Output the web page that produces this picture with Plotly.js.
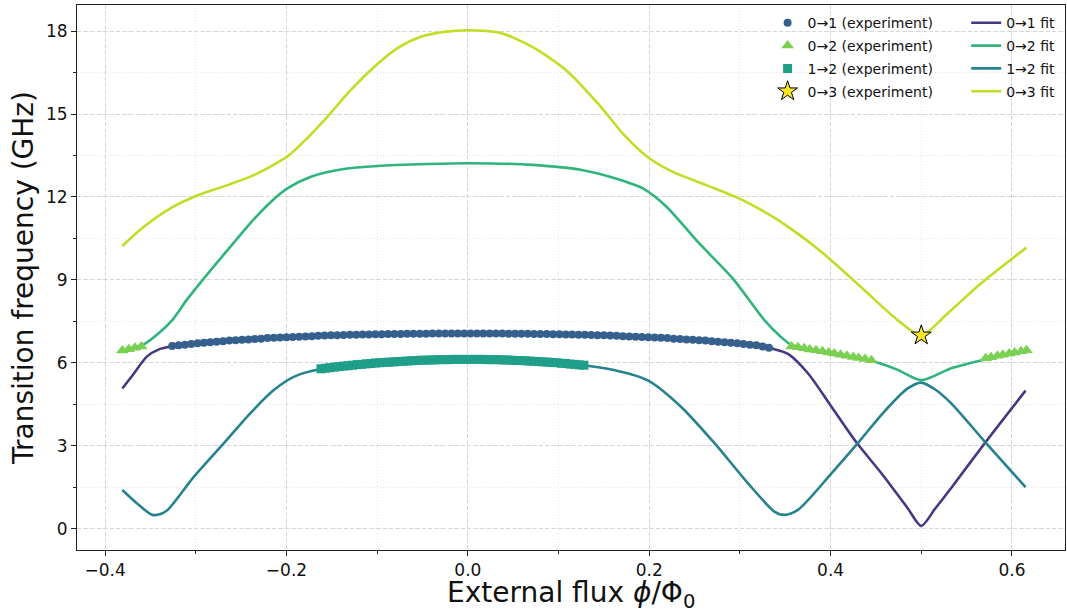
<!DOCTYPE html>
<html>
<head>
<meta charset="utf-8">
<script src="https://cdn.plot.ly/plotly-3.0.1.min.js"></script>
<style>html,body{margin:0;padding:0;background:#fff;}#chart{width:1067px;height:614px;}</style>
</head>
<body>
<div id="chart"></div>
<script>
// ---- Fit curves ----
const fit01_x = [-0.381,-0.368,-0.354,-0.340,-0.326,-0.295,-0.250,-0.200,-0.100,0.000,0.100,0.200,0.272,0.309,0.338,0.353,0.375,0.401,0.428,0.459,0.485,0.500,0.515,0.533,0.570,0.615];
const fit01_y = [5.08,5.63,6.23,6.50,6.61,6.77,6.88,6.95,7.04,7.07,7.03,6.93,6.77,6.65,6.50,6.33,5.63,4.42,3.15,1.89,0.75,0.11,0.72,1.48,3.10,5.00];

const fit02_x = [-0.381,-0.370,-0.357,-0.340,-0.326,-0.310,-0.291,-0.265,-0.240,-0.217,-0.199,-0.173,-0.137,-0.100,-0.044,0.000,0.071,0.127,0.163,0.193,0.219,0.255,0.292,0.327,0.345,0.357,0.400,0.448,0.474,0.500,0.533,0.570,0.615];
const fit02_y = [6.42,6.55,6.68,7.10,7.55,8.28,9.06,10.08,11.05,11.83,12.31,12.73,13.01,13.12,13.19,13.22,13.16,12.97,12.67,12.31,11.65,10.33,9.06,7.55,6.95,6.65,6.38,6.05,5.75,5.38,5.81,6.13,6.45];

const fit12_x = [-0.381,-0.365,-0.348,-0.338,-0.331,-0.302,-0.269,-0.240,-0.214,-0.192,-0.162,-0.100,0.000,0.080,0.125,0.161,0.198,0.235,0.272,0.309,0.338,0.349,0.364,0.401,0.430,0.458,0.485,0.500,0.515,0.533,0.570,0.615];
const fit12_y = [1.41,0.93,0.51,0.55,0.69,1.89,3.10,4.18,5.02,5.50,5.78,5.98,6.12,6.03,5.93,5.75,5.38,4.42,3.10,1.65,0.63,0.51,0.69,2.01,3.10,4.20,5.08,5.29,5.05,4.54,3.16,1.51];

const fit03_x = [-0.381,-0.357,-0.328,-0.297,-0.265,-0.236,-0.210,-0.197,-0.181,-0.155,-0.129,-0.103,-0.078,-0.052,-0.026,0.000,0.035,0.071,0.108,0.145,0.174,0.200,0.226,0.263,0.299,0.336,0.366,0.393,0.437,0.474,0.500,0.529,0.566,0.616];
const fit03_y = [10.23,10.93,11.59,12.07,12.43,12.79,13.24,13.52,14.00,14.90,15.87,16.71,17.37,17.79,17.97,18.03,17.94,17.43,16.59,15.32,14.18,13.40,12.91,12.43,11.95,11.29,10.62,9.93,8.64,7.55,7.00,7.79,8.88,10.17];

// ---- Experimental data ----
const exp01_x = [-0.326,-0.319,-0.312,-0.305,-0.298,-0.291,-0.284,-0.277,-0.270,-0.263,-0.256,-0.249,-0.242,-0.235,-0.228,-0.221,-0.214,-0.207,-0.200,-0.193,-0.186,-0.179,-0.172,-0.165,-0.158,-0.151,-0.144,-0.137,-0.130,-0.123,-0.116,-0.109,-0.102,-0.095,-0.088,-0.081,-0.074,-0.067,-0.060,-0.053,-0.046,-0.039,-0.032,-0.025,-0.018,-0.011,-0.004,0.003,0.010,0.017,0.024,0.031,0.038,0.045,0.052,0.059,0.066,0.073,0.080,0.087,0.094,0.101,0.108,0.115,0.122,0.129,0.136,0.143,0.150,0.157,0.164,0.171,0.178,0.185,0.192,0.199,0.206,0.213,0.220,0.227,0.234,0.241,0.248,0.255,0.262,0.269,0.276,0.283,0.290,0.297,0.304,0.311,0.318,0.325,0.332];
const exp01_y = [6.61,6.64,6.66,6.69,6.71,6.73,6.75,6.77,6.79,6.81,6.82,6.84,6.85,6.87,6.88,6.90,6.91,6.92,6.93,6.94,6.95,6.96,6.97,6.98,6.99,7.00,7.00,7.01,7.02,7.02,7.03,7.03,7.04,7.04,7.05,7.05,7.05,7.06,7.06,7.06,7.06,7.07,7.07,7.07,7.07,7.07,7.07,7.07,7.07,7.07,7.07,7.07,7.07,7.06,7.06,7.06,7.06,7.05,7.05,7.05,7.04,7.04,7.03,7.03,7.02,7.02,7.01,7.00,7.00,6.99,6.98,6.97,6.96,6.95,6.94,6.93,6.92,6.91,6.90,6.88,6.87,6.85,6.84,6.82,6.81,6.79,6.77,6.75,6.73,6.71,6.69,6.66,6.64,6.60,6.55];

const exp02_x = [-0.381,-0.374,-0.367,-0.360,0.357,0.364,0.371,0.377,0.384,0.391,0.398,0.404,0.411,0.418,0.425,0.431,0.438,0.445,0.571,0.577,0.584,0.590,0.597,0.603,0.610,0.616];
const exp02_y = [6.45,6.50,6.55,6.60,6.60,6.57,6.53,6.49,6.46,6.42,6.38,6.34,6.30,6.26,6.22,6.18,6.14,6.10,6.17,6.21,6.26,6.30,6.34,6.38,6.42,6.46];

const exp12_x = [-0.162,-0.157,-0.152,-0.147,-0.142,-0.137,-0.132,-0.127,-0.122,-0.117,-0.112,-0.107,-0.102,-0.097,-0.092,-0.087,-0.082,-0.077,-0.072,-0.067,-0.062,-0.057,-0.052,-0.047,-0.042,-0.037,-0.032,-0.027,-0.022,-0.017,-0.012,-0.007,-0.002,0.003,0.008,0.013,0.018,0.023,0.028,0.033,0.038,0.043,0.048,0.053,0.058,0.063,0.068,0.073,0.078,0.083,0.088,0.093,0.098,0.103,0.108,0.113,0.118,0.123,0.128];
const exp12_y = [5.79,5.81,5.83,5.85,5.87,5.89,5.90,5.92,5.94,5.95,5.97,5.98,6.00,6.01,6.02,6.03,6.04,6.05,6.06,6.07,6.08,6.09,6.10,6.10,6.11,6.11,6.12,6.12,6.12,6.13,6.13,6.13,6.13,6.13,6.13,6.13,6.13,6.12,6.12,6.12,6.11,6.11,6.10,6.09,6.09,6.08,6.07,6.06,6.05,6.04,6.03,6.02,6.01,5.99,5.98,5.96,5.95,5.93,5.92];

const exp03_x = [0.500];
const exp03_y = [7.00];

const xTickVals = [-0.4,-0.2,0.0,0.2,0.4,0.6];
const xTickText = ['\u22120.4','\u22120.2','0.0','0.2','0.4','0.6'];
const yTickVals = [0,3,6,9,12,15,18];

const FONT = 'DejaVu Sans, sans-serif';
const lw = 2.6;
const sm = 0.75;

const traces = [
  {x: fit01_x, y: fit01_y, mode:'lines', name:'0\u21921 fit', legendgroup:'f1', line:{color:'#443983', width:lw, shape:'spline', smoothing:sm}, legend:'legend2'},
  {x: fit02_x, y: fit02_y, mode:'lines', name:'0\u21922 fit', legendgroup:'f2', line:{color:'#2fb47c', width:lw, shape:'spline', smoothing:sm}, legend:'legend2'},
  {x: fit12_x, y: fit12_y, mode:'lines', name:'1\u21922 fit', legendgroup:'f3', line:{color:'#26828e', width:lw, shape:'spline', smoothing:sm}, legend:'legend2'},
  {x: fit03_x, y: fit03_y, mode:'lines', name:'0\u21923 fit', legendgroup:'f4', line:{color:'#bddf26', width:lw, shape:'spline', smoothing:sm}, legend:'legend2'},
  {x: exp01_x, y: exp01_y, mode:'markers', name:'0\u21921 (experiment)', legendgroup:'e1', marker:{color:'#355f8d', size:8, symbol:'circle'}, legend:'legend'},
  {x: exp02_x, y: exp02_y, mode:'markers', name:'0\u21922 (experiment)', legendgroup:'e2', marker:{color:'#7ad151', size:11, symbol:'triangle-up'}, legend:'legend'},
  {x: exp12_x, y: exp12_y, mode:'markers', name:'1\u21922 (experiment)', legendgroup:'e3', marker:{color:'#1f9e89', size:9, symbol:'square'}, legend:'legend'},
  {x: exp03_x, y: exp03_y, mode:'markers', name:'0\u21923 (experiment)', legendgroup:'e4', marker:{color:'#fde725', size:15, symbol:'star', line:{color:'#000', width:1}}, legend:'legend'}
];

const axisCommon = {
  showline:true, mirror:true, linecolor:'#222', linewidth:1,
  ticks:'outside', ticklen:5, tickwidth:1, tickcolor:'#222',
  showgrid:true, gridcolor:'#d6d6d6', gridwidth:1, griddash:'4px,2.5px',
  zeroline:false, tickfont:{family:FONT, size:17, color:'#111'}
};

const legendCommon = {xanchor:'left', yanchor:'top', bgcolor:'rgba(0,0,0,0)', borderwidth:0, font:{family:FONT, size:14, color:'#111'}, traceorder:'grouped', tracegroupgap:1.6, itemwidth:30};

const layout = {
  width:1067, height:614,
  margin:{l:77, r:2, t:5, b:64},
  paper_bgcolor:'#fff', plot_bgcolor:'#fff',
  font:{family:FONT, color:'#111'},
  xaxis: Object.assign({}, axisCommon, {
    range:[-0.431, 0.6585], tickvals:xTickVals, ticktext:xTickText,
    minor:{dtick:0.1, tick0:0, ticks:'outside', ticklen:3, tickcolor:'#222', showgrid:true, gridcolor:'#e3e3e3', griddash:'1px,2px'}
  }),
  yaxis: Object.assign({}, axisCommon, {
    range:[-0.76, 18.94], tickvals:yTickVals,
    minor:{dtick:1.5, tick0:0, ticks:'outside', ticklen:3, tickcolor:'#222', showgrid:true, gridcolor:'#e3e3e3', griddash:'1px,2px'},
    title:{text:'Transition frequency (GHz)', font:{family:FONT, size:28, color:'#111'}, standoff:4}
  }),
  annotations:[{
    text:'External flux <i>\u03d5</i>/\u03a6<sub>0</sub>', xref:'paper', yref:'paper', x:0.5, y:0,
    xanchor:'center', yanchor:'middle', yshift:-44.5, showarrow:false,
    font:{family:FONT, size:28, color:'#111'}
  }],
  legend: Object.assign({}, legendCommon, {x:0.699, y:0.996}),
  legend2: Object.assign({}, legendCommon, {x:0.90, y:0.996}),
  showlegend:true
};

Plotly.newPlot('chart', traces, layout, {staticPlot:true, displayModeBar:false});
</script>
</body>
</html>
